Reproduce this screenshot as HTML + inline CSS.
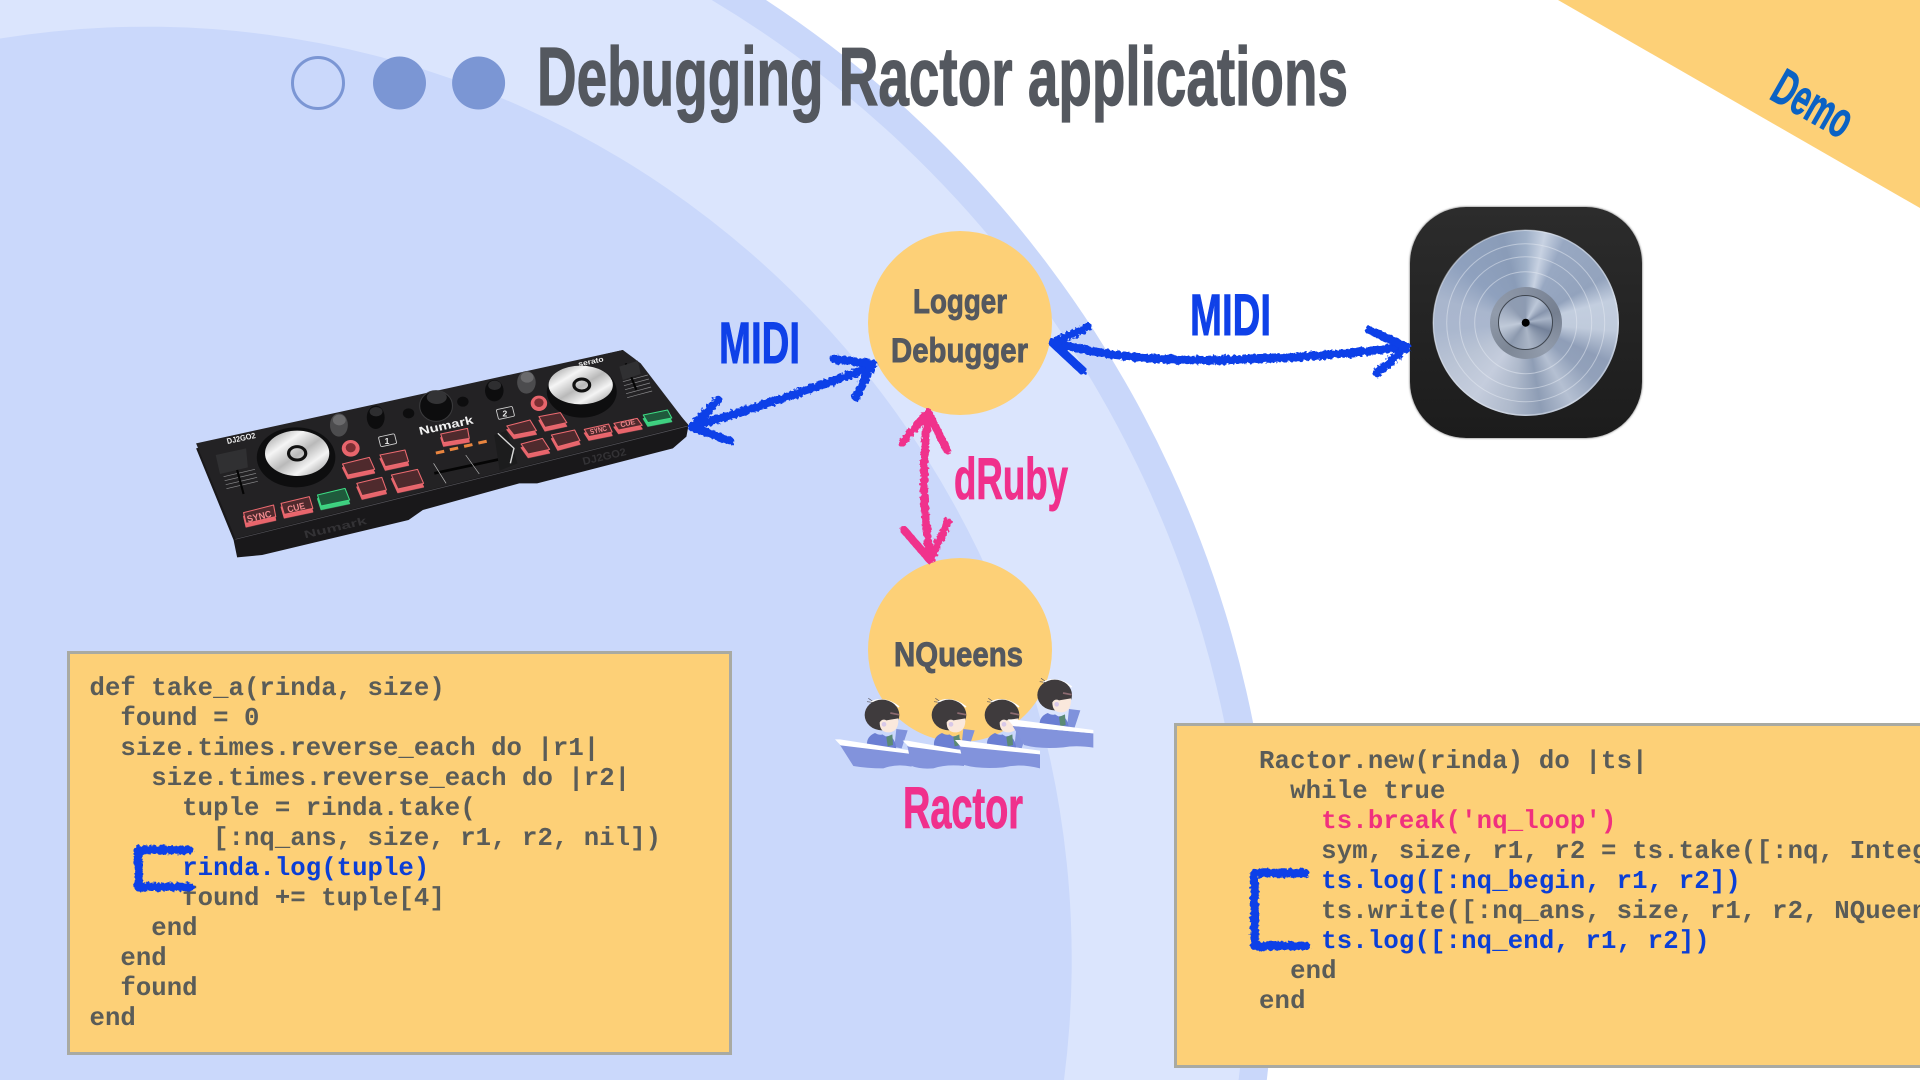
<!DOCTYPE html>
<html lang="en"><head><meta charset="utf-8"><title>Debugging Ractor applications</title>
<style>
html,body{margin:0;padding:0;background:#fff;width:1920px;height:1080px;overflow:hidden}
#p{position:relative;width:1920px;height:1080px;overflow:hidden;background:#fff}
svg.l{position:absolute;left:0;top:0;display:block;overflow:hidden}
.box{position:absolute;background:#fdd077;border:3px solid #a9aaa2;box-sizing:border-box}
pre{position:absolute;margin:0;font:700 25.67px/30px "Liberation Mono",monospace;color:#5a5c58;white-space:pre;filter:blur(.35px);overflow:hidden}
.b{color:#0b3fd6}.k{color:#f0307e}
#icon{position:absolute;left:1410px;top:207px;width:232px;height:231px;border-radius:56px;background:linear-gradient(#2c2c2c,#1c1c1c);box-shadow:0 0 2px rgba(40,40,40,.8)}
#disc{position:absolute;left:1432.5px;top:229.5px;width:186px;height:186px;border-radius:50%;background:conic-gradient(#9fb0c8 0deg,#c8d2e2 12deg,#98a8c2 25deg,#93a3bd 60deg,#c3cedf 75deg,#c0cbdc 95deg,#8f9eb8 115deg,#92a1ba 130deg,#b5c0d2 150deg,#8e9db5 170deg,#aeb9cb 190deg,#c5cddd 215deg,#bac4d5 240deg,#aab7ce 265deg,#a9b6cd 285deg,#8fa1be 310deg,#8a9cb8 345deg,#9fb0c8 360deg)}
#hub{position:absolute;left:1489.5px;top:286.5px;width:72px;height:72px;border-radius:50%;background:conic-gradient(#858fa0,#757f90,#929cac,#7d8796,#919bab,#858fa0)}
#hub2{position:absolute;left:1498px;top:295px;width:55px;height:55px;box-sizing:border-box;border:1.5px solid #3f4650;border-radius:50%;background:conic-gradient(#8d9bb2 0deg,#bcc7d8 30deg,#8795ad 60deg,#a8b4c7 80deg,#74829a 110deg,#aab5c6 170deg,#8c99ae 215deg,#c0cad9 260deg,#8f9cb2 320deg,#8d9bb2 360deg)}
</style></head><body><div id="p">

<svg class="l" width="1920" height="1080" viewBox="0 0 1920 1080">
<path d="M0,0 L766,0 A1130,1130 0 0 1 1266.8,1080 L0,1080Z" fill="#c9d7fa"/>
<path d="M0,0 L711.7,0 A1100,1100 0 0 1 1238.6,1080 L0,1080Z" fill="#dbe5fd"/>
<path d="M0,38.5 A925,933 0 0 1 1064,1080 L0,1080Z" fill="#cad8fb"/>
<polygon points="1558,0 1920,0 1920,208" fill="#fdd077"/>
</svg>

<div class="box" style="left:67px;top:651px;width:665px;height:404px"></div>
<pre style="left:89.5px;top:674px;letter-spacing:.05px">def take_a(rinda, size)
  found = 0
  size.times.reverse_each do |r1|
    size.times.reverse_each do |r2|
      tuple = rinda.take(
        [:nq_ans, size, r1, r2, nil])
      <span class="b">rinda.log(tuple)</span>
      found += tuple[4]
    end
  end
  found
end</pre>

<div class="box" style="left:1174px;top:723px;width:746px;height:345px;border-right:0"></div>
<pre style="left:1259px;top:747px;width:661px;height:300px;letter-spacing:.15px">Ractor.new(rinda) do |ts|
  while true
    <span class="k">ts.break('nq_loop')</span>
    sym, size, r1, r2 = ts.take([:nq, Integer, Integer, Integer])
    <span class="b">ts.log([:nq_begin, r1, r2])</span>
    ts.write([:nq_ans, size, r1, r2, NQueens.solve(size, r1, r2)])
    <span class="b">ts.log([:nq_end, r1, r2])</span>
  end
end</pre>

<div id="icon"></div><div id="disc"></div><div id="hub"></div><div id="hub2"></div>

<svg class="l" width="1920" height="1080" viewBox="0 0 1920 1080" font-family="'Liberation Sans Narrow','Liberation Sans',sans-serif" font-weight="700">
<defs>
<filter id="r" x="-20%" y="-20%" width="140%" height="140%" filterUnits="objectBoundingBox">
<feTurbulence type="fractalNoise" baseFrequency=".3" numOctaves="2" seed="4"/>
<feDisplacementMap in="SourceGraphic" scale="5"/>
</filter>
<linearGradient id="sil" x1="0" y1="0" x2="1" y2="1"><stop offset="0" stop-color="#8d8d8d"/><stop offset=".3" stop-color="#f5f5f5"/><stop offset=".52" stop-color="#b9b9b9"/><stop offset=".72" stop-color="#f4f4f4"/><stop offset="1" stop-color="#8a8a8a"/></linearGradient>
<g id="fig">
<path d="M-36,-38 Q6,-58 50,-24" fill="none" stroke="#fff" stroke-width="5"/>
<path d="M-30,-42 L-42,-50 M-30,-38 L-46,-40" stroke="#57535a" stroke-width="2" fill="none"/>
<polygon points="42,42 76,46 58,100 36,96" fill="#7f92dc"/>
<ellipse cx="-1" cy="0" rx="52" ry="46" fill="#3f3b3d"/>
<path d="M-8,22 Q0,10 12,16 L48,10 Q50,48 22,52 Q-8,54 -8,22Z" fill="#fae8dc"/>
<circle cx="5" cy="28" r="7" fill="#d8c8e8"/>
<path d="M24,-6 L50,-1" stroke="#8c6a70" stroke-width="5"/>
<path d="M-45,100 Q-52,66 -22,54 Q-8,62 0,58 L10,64 Q38,58 42,104Z" fill="#6b7fd3"/>
<path d="M12,66 L30,58 L32,90 L16,94Z" fill="#5b8a74"/>
</g>
</defs>

<!-- title -->
<circle cx="318" cy="83" r="25.5" fill="none" stroke="#7b96d4" stroke-width="3"/>
<circle cx="399.5" cy="83" r="26.5" fill="#7b96d4"/>
<circle cx="478.6" cy="83" r="26.5" fill="#7b96d4"/>
<text x="537" y="105" font-size="83" fill="#54585f" stroke="#54585f" stroke-width="1.2" textLength="811" lengthAdjust="spacingAndGlyphs">Debugging Ractor applications</text>
<text transform="translate(1768,98) rotate(29.6)" font-size="51" fill="#0b62c4" stroke="#0b62c4" stroke-width=".9" textLength="84" lengthAdjust="spacingAndGlyphs">Demo</text>

<!-- logic disc rings -->
<g fill="none" stroke="#e6ebf3" stroke-width="1" opacity=".5">
<circle cx="1525.7" cy="322.7" r="79"/><circle cx="1525.7" cy="322.7" r="66"/><circle cx="1525.7" cy="322.7" r="51"/>
<circle cx="1525.7" cy="322.7" r="92.5" stroke-width="1.5"/>
</g>
<circle cx="1525.7" cy="322.7" r="4" fill="#000"/>

<!-- nodes -->
<circle cx="960" cy="323" r="92" fill="#fdd077"/>
<circle cx="960" cy="650" r="92" fill="#fdd077"/>
<g fill="#54585f" stroke="#54585f" stroke-width=".9" font-size="34">
<text x="913" y="313" textLength="94" lengthAdjust="spacingAndGlyphs">Logger</text>
<text x="891" y="362" textLength="137" lengthAdjust="spacingAndGlyphs">Debugger</text>
<text x="894" y="666" textLength="129" lengthAdjust="spacingAndGlyphs">NQueens</text>
</g>
<g fill="#0f41e8" stroke="#0f41e8" stroke-width=".9" font-size="58">
<text x="719" y="363" textLength="81" lengthAdjust="spacingAndGlyphs">MIDI</text>
<text x="1190" y="335" textLength="81" lengthAdjust="spacingAndGlyphs">MIDI</text>
</g>
<g fill="#f0308c" stroke="#f0308c" stroke-width=".9" font-size="58">
<text x="954" y="499" textLength="114" lengthAdjust="spacingAndGlyphs">dRuby</text>
<text x="903" y="828" textLength="120" lengthAdjust="spacingAndGlyphs">Ractor</text>
</g>

<!-- DJ controller -->
<g transform="translate(180,320) scale(.35714,.33333)" style="filter:blur(.6px)">
<polygon points="45,385 150,660 160,712 230,705 640,600 680,570 950,490 1000,490 1380,385 1418,350 1424,315 1240,90" fill="#19181a"/>
<polygon points="45,370 1240,90 1290,130 1422,315 155,655" fill="#232224"/>
<path d="M155,658 L1422,318" stroke="#55545a" stroke-width="2"/>
<!-- jog wheels -->
<ellipse cx="325" cy="412" rx="110" ry="90" fill="#0e0e0f"/>
<ellipse cx="328" cy="400" rx="90" ry="68" fill="url(#sil)"/>
<ellipse cx="328" cy="400" rx="24" ry="20" fill="none" stroke="#111" stroke-width="9"/>
<ellipse cx="1125" cy="215" rx="98" ry="78" fill="#0e0e0f"/>
<ellipse cx="1122" cy="195" rx="90" ry="58" fill="url(#sil)"/>
<ellipse cx="1125" cy="195" rx="22" ry="18" fill="none" stroke="#111" stroke-width="9"/>
<!-- knobs -->
<ellipse cx="445" cy="315" rx="25" ry="35" fill="#4c4c4e"/><ellipse cx="446" cy="300" rx="18" ry="16" fill="#6a6a6c"/>
<ellipse cx="548" cy="292" rx="25" ry="35" fill="#0d0d0e"/><ellipse cx="549" cy="275" rx="18" ry="14" fill="#2e2e30"/>
<ellipse cx="717" cy="258" rx="46" ry="46" fill="#0d0d0e" stroke="#3a3a3c" stroke-width="3"/><ellipse cx="719" cy="232" rx="28" ry="20" fill="#333335"/>
<ellipse cx="880" cy="212" rx="26" ry="32" fill="#0d0d0e"/><ellipse cx="881" cy="196" rx="18" ry="14" fill="#2e2e30"/>
<ellipse cx="970" cy="187" rx="26" ry="34" fill="#4c4c4e"/><ellipse cx="972" cy="172" rx="18" ry="16" fill="#6a6a6c"/>
<circle cx="478" cy="385" r="25" fill="#e8656c"/><circle cx="478" cy="383" r="14" fill="#7c2f33"/>
<circle cx="1005" cy="250" r="23" fill="#e8656c"/><circle cx="1005" cy="248" r="13" fill="#7c2f33"/>
<ellipse cx="640" cy="280" rx="16" ry="15" fill="#0d0d0e"/><ellipse cx="792" cy="245" rx="16" ry="15" fill="#0d0d0e"/>
<!-- pads -->
<g fill="#4f2a2d" stroke="#ec6a70" stroke-width="3" stroke-linejoin="round" style="filter:drop-shadow(0 11px 0 #e8656c)">
<polygon points="455,432 530,412 545,448 470,465"/>
<polygon points="560,405 630,390 640,425 575,440"/>
<polygon points="495,490 565,472 578,510 510,527"/>
<polygon points="592,465 665,448 682,490 610,507"/>
<polygon points="915,318 980,300 998,332 935,345"/>
<polygon points="1005,290 1065,278 1083,308 1022,322"/>
<polygon points="955,372 1015,355 1035,388 975,402"/>
<polygon points="1040,345 1105,330 1120,362 1058,380"/>
<polygon points="178,578 262,555 268,590 185,610"/>
<polygon points="283,550 362,530 372,565 292,583"/>
<polygon points="1132,328 1200,312 1210,336 1145,350"/>
<polygon points="1215,310 1280,295 1294,316 1228,330"/>
<polygon points="730,342 805,325 810,355 738,368"/>
</g>
<g fill="#1f5a3c" stroke="#3ddc84" stroke-width="3" stroke-linejoin="round" style="filter:drop-shadow(0 11px 0 #3fcf80)">
<polygon points="385,525 462,505 475,540 395,558"/>
<polygon points="1297,285 1365,270 1377,294 1310,308"/>
</g>
<!-- LEDs -->
<g fill="#e9853f"><rect x="716" y="392" width="24" height="9" transform="rotate(-13 728 396)"/><rect x="755" y="382" width="24" height="9" transform="rotate(-13 767 386)"/><rect x="795" y="372" width="24" height="9" transform="rotate(-13 807 376)"/><rect x="835" y="362" width="24" height="9" transform="rotate(-13 847 366)"/></g>
<!-- crossfader -->
<path d="M712,460 L920,412" stroke="#050505" stroke-width="8"/>
<path d="M710,430 L745,490 M800,405 L838,462" stroke="#b8b8b8" stroke-width="2"/>
<polygon points="880,345 915,332 945,430 895,452" fill="#1c1c1d"/>
<path d="M890,340 L935,385 L925,430" fill="none" stroke="#d8d8d8" stroke-width="4"/>
<!-- pitch faders -->
<g stroke="#8a8a8c" stroke-width="2"><path d="M122,470 L210,448 M125,482 L213,460 M128,494 L216,472 M130,506 L218,484"/><path d="M1240,185 L1310,165 M1243,197 L1313,177 M1246,209 L1316,189 M1249,221 L1319,201 M1252,233 L1322,213"/></g>
<path d="M150,410 L178,522" stroke="#050505" stroke-width="6"/>
<path d="M1248,130 L1278,210" stroke="#050505" stroke-width="6"/>
<polygon points="100,405 185,385 190,442 112,462" fill="#303032"/>
<polygon points="1230,140 1282,122 1290,162 1240,180" fill="#303032"/>
<!-- deck numbers and labels -->
<g fill="none" stroke="#d0d0d0" stroke-width="2.5"><rect x="558" y="346" width="46" height="30" rx="4" transform="rotate(-13 580 360)"/><rect x="888" y="264" width="46" height="30" rx="4" transform="rotate(-13 910 278)"/></g>
<g font-family="'Liberation Sans',sans-serif" fill="#eee" font-weight="700">
<text x="573" y="372" font-size="24">1</text><text x="903" y="290" font-size="24">2</text>
<text transform="translate(672,345) rotate(-13)" font-size="34" fill="#f2f2f2" textLength="155" lengthAdjust="spacingAndGlyphs">Numark</text>
<text transform="translate(133,372) rotate(-13)" font-size="24" textLength="82" lengthAdjust="spacingAndGlyphs">DJ2GO2</text>
<text transform="translate(1117,140) rotate(-13)" font-size="22" textLength="72" lengthAdjust="spacingAndGlyphs">serato</text>
<g fill="#f08a8e">
<text transform="translate(190,607) rotate(-14)" font-size="28" textLength="70" lengthAdjust="spacingAndGlyphs">SYNC</text>
<text transform="translate(303,578) rotate(-14)" font-size="28" textLength="50" lengthAdjust="spacingAndGlyphs">CUE</text>
<text transform="translate(1150,343) rotate(-14)" font-size="22" textLength="48" lengthAdjust="spacingAndGlyphs">SYNC</text>
<text transform="translate(1235,322) rotate(-14)" font-size="22" textLength="42" lengthAdjust="spacingAndGlyphs">CUE</text>
</g>
<text transform="translate(350,655) rotate(-14)" font-size="32" fill="#333235" textLength="180" lengthAdjust="spacingAndGlyphs">Numark</text>
<text transform="translate(1130,435) rotate(-14)" font-size="32" fill="#333235" textLength="125" lengthAdjust="spacingAndGlyphs">DJ2GO2</text>
</g>
</g>

<!-- chibi rowers -->
<g transform="translate(820,640) scale(.33333)">
<use href="#fig" x="187" y="225"/>
<path d="M60,315 L275,340 L275,380 Q230,370 190,385 Q140,385 100,378Z" fill="#8293dc"/>
<polygon points="45,298 60,298 275,332 275,342 62,316" fill="#fff"/>
<use href="#fig" x="388" y="225"/>
<path d="M262,318 L432,340 L432,378 Q380,372 340,385 Q300,388 275,378Z" fill="#8293dc"/>
<polygon points="248,302 262,302 432,332 432,342 266,320" fill="#fff"/>
<use href="#fig" x="547" y="225"/>
<path d="M418,318 L660,342 L660,385 Q600,370 550,382 Q480,388 432,375Z" fill="#8293dc"/>
<polygon points="405,300 420,300 660,332 660,343 422,320" fill="#fff"/>
<use href="#fig" x="705" y="165"/>
<path d="M578,258 L820,280 L820,323 Q770,315 730,322 Q660,328 612,315Z" fill="#8293dc"/>
<polygon points="563,238 578,238 820,270 820,280 580,258" fill="#fff"/>
</g>

<!-- arrows -->
<g filter="url(#r)" fill="none" stroke="#0d3fe8" stroke-width="8.5" stroke-linecap="round" stroke-linejoin="round">
<path d="M700,424 Q790,398 868,368"/>
<path d="M834,359 L873,364 L856,397"/>
<path d="M718,400 L692,427 L730,441"/>
<path d="M1058,344 Q1130,362 1223,360 Q1320,358 1402,347"/>
<path d="M1088,327 L1053,343 L1083,371"/>
<path d="M1369,330 L1407,347 L1377,373"/>
<path d="M138.5,850 L189,850 M138.5,850 L138.5,887 L190,887"/>
<path d="M1254.5,873 L1305,873 M1254.5,873 L1254.5,946 L1306,946"/>
</g>
<g filter="url(#r)" fill="none" stroke="#f0308c" stroke-width="8" stroke-linecap="round" stroke-linejoin="round">
<path d="M928,416 Q919,485 930,556"/>
<path d="M902,443 L928,412 L947,450"/>
<path d="M904,530 L930,560 L948,522"/>
</g>
</svg>
</div></body></html>
